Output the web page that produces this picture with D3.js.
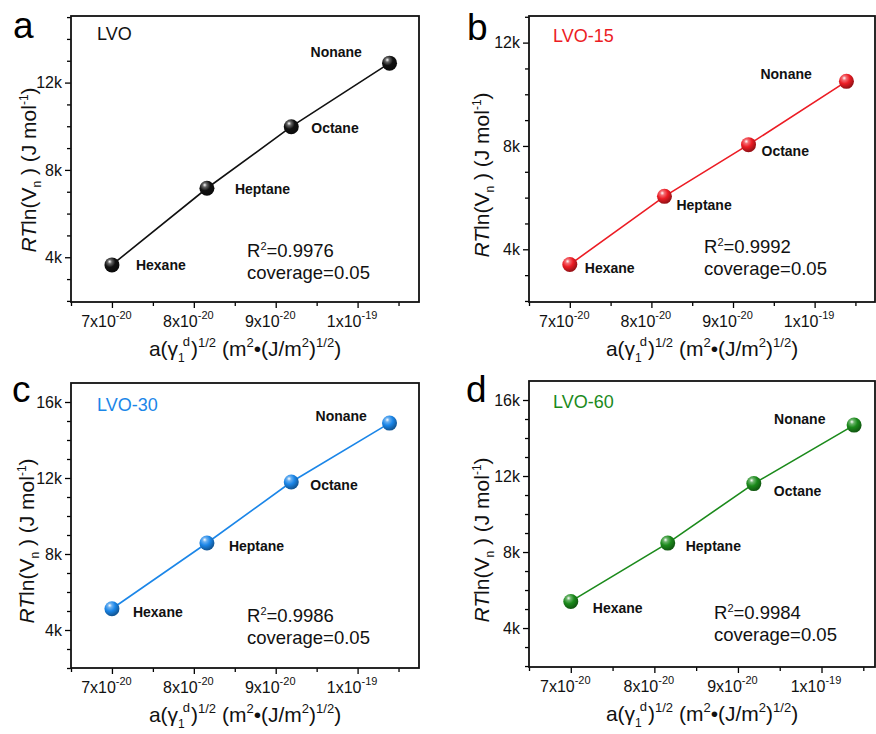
<!DOCTYPE html>
<html>
<head>
<meta charset="utf-8">
<script src="https://cdn.jsdelivr.net/npm/d3@7"></script>
<style>
  html, body { margin: 0; padding: 0; background: #fff; }
  svg { display: block; font-family: Arial, "Liberation Sans", Helvetica, sans-serif; }
</style>
</head>
<body>
<svg id="chart" width="876" height="734"></svg>
<script>
// ---------------- data ----------------
const compounds = ["Hexane", "Heptane", "Octane", "Nonane"];
const xValues = [7.0e-20, 8.16e-20, 9.19e-20, 10.39e-20];
const lvo   = [3650, 7160, 9980, 12890];
const lvo15 = [3410, 6050, 8050, 10500];
const lvo30 = [5120, 8580, 11790, 14890];
const lvo60 = [5400, 8470, 11600, 14680];
const sampleNames = ["LVO", "LVO-15", "LVO-30", "LVO-60"];
const panelLetters = ["a", "b", "c", "d"];
const r2Values = ["0.9976", "0.9992", "0.9986", "0.9984"];
const coverage = "0.05";
const xTickValues = [7e-20, 8e-20, 9e-20, 1e-19];
const xTickMantissa = ["7x10", "8x10", "9x10", "1x10"];
const xTickExponent = ["-20", "-20", "-20", "-19"];
const yTicksAB = [4000, 8000, 12000];
const yTicksCD = [4000, 8000, 12000, 16000];
const yTickLabel = v => (v / 1000) + "k";

// ---------------- layout / style ----------------
const colors = ["#111111", "#ec1c24", "#1b86e8", "#1b8a1b"];
const series = [lvo, lvo15, lvo30, lvo60];
const panels = [
  { left: 71,  right: 419, top: 16,  bottom: 302, xDomain: [6.5e-20, 10.75e-20], yDomain: [1950, 15050], yTicks: yTicksAB,
    letter: [13, 38], name: [97, 40], r2: [247, 257],
    offs: [[24, 5], [28, 6], [20, 6], [-79, -6]], yTitle: [36, 170] },
  { left: 529, right: 875, top: 16,  bottom: 302, xDomain: [6.5e-20, 10.74e-20], yDomain: [1960, 13030], yTicks: yTicksAB,
    letter: [467, 40], name: [553, 42], r2: [704, 253],
    offs: [[15, 8], [12, 14], [13, 11], [-86, -2]], yTitle: [489, 175] },
  { left: 71,  right: 419, top: 383, bottom: 668, xDomain: [6.5e-20, 10.75e-20], yDomain: [2000, 17000], yTicks: yTicksCD,
    letter: [12, 402], name: [97, 411], r2: [247, 622],
    offs: [[21, 8], [22, 8], [19, 8], [-74, -2]], yTitle: [34, 541] },
  { left: 529, right: 875, top: 381, bottom: 667, xDomain: [6.5e-20, 10.64e-20], yDomain: [1950, 17000], yTicks: yTicksCD,
    letter: [466, 402], name: [553, 408], r2: [714, 619],
    offs: [[22, 12], [18, 8], [20, 12], [-80, -1]], yTitle: [489, 540] }
];

const svg = d3.select("#chart");
svg.append("rect").attr("width", 876).attr("height", 734).attr("fill", "#fff");
const defs = svg.append("defs");

colors.forEach((c, i) => {
  const grad = defs.append("radialGradient")
    .attr("id", "ball" + i).attr("cx", "38%").attr("cy", "32%").attr("r", "65%")
    .attr("fx", "35%").attr("fy", "28%");
  grad.append("stop").attr("offset", "0%").attr("stop-color", "#ffffff");
  grad.append("stop").attr("offset", "22%").attr("stop-color", d3.interpolateRgb(c, "#ffffff")(0.35));
  grad.append("stop").attr("offset", "55%").attr("stop-color", c);
  grad.append("stop").attr("offset", "100%").attr("stop-color", d3.interpolateRgb(c, "#000000")(0.35));
});

panels.forEach((p, i) => {
  const g = svg.append("g");
  const x = d3.scaleLinear().domain(p.xDomain).range([p.left, p.right]);
  const y = d3.scaleLinear().domain(p.yDomain).range([p.bottom, p.top]);

  // minor ticks
  const xMinor = [6.5e-20, 7.5e-20, 8.5e-20, 9.5e-20, 10.5e-20];
  g.append("g").attr("transform", `translate(0,${p.bottom})`)
    .call(d3.axisBottom(x).tickValues(xMinor).tickSize(4).tickFormat(""))
    .call(s => s.select(".domain").remove())
    .selectAll("line").attr("stroke", "#000").attr("stroke-width", 1.3);
  const yMinor = d3.range(Math.ceil(p.yDomain[0] / 1000) * 1000, p.yDomain[1], 1000).filter(v => v % 4000 !== 0);
  g.append("g").attr("transform", `translate(${p.left},0)`)
    .call(d3.axisLeft(y).tickValues(yMinor).tickSize(4).tickFormat(""))
    .call(s => s.select(".domain").remove())
    .selectAll("line").attr("stroke", "#000").attr("stroke-width", 1.3);

  // major x axis
  const xa = g.append("g").attr("transform", `translate(0,${p.bottom})`)
    .call(d3.axisBottom(x).tickValues(xTickValues).tickSize(6).tickPadding(0).tickFormat(""));
  xa.select(".domain").remove();
  xa.selectAll("line").attr("stroke", "#000").attr("stroke-width", 1.3);
  xa.selectAll(".tick").each(function(d, k) {
    const t = d3.select(this).append("text")
      .attr("y", 25).attr("x", -6).attr("fill", "#111").attr("font-size", 16)
      .attr("text-anchor", "middle");
    t.append("tspan").text(xTickMantissa[k]);
    t.append("tspan").attr("dy", -8).attr("font-size", 11).text(xTickExponent[k]);
  });

  // major y axis
  const ya = g.append("g").attr("transform", `translate(${p.left},0)`)
    .call(d3.axisLeft(y).tickValues(p.yTicks).tickSize(6).tickPadding(3).tickFormat(yTickLabel));
  ya.select(".domain").remove();
  ya.selectAll("line").attr("stroke", "#000").attr("stroke-width", 1.3);
  ya.selectAll("text").attr("font-size", 16).attr("fill", "#111").attr("font-family", "Arial, 'Liberation Sans', sans-serif");

  // frame
  g.append("rect").attr("x", p.left).attr("y", p.top)
    .attr("width", p.right - p.left).attr("height", p.bottom - p.top)
    .attr("fill", "none").attr("stroke", "#111").attr("stroke-width", 1.8);

  // line
  const pts = xValues.map((xv, k) => [xv, series[i][k]]);
  g.append("path").datum(pts)
    .attr("d", d3.line().x(d => x(d[0])).y(d => y(d[1])))
    .attr("fill", "none").attr("stroke", colors[i]).attr("stroke-width", 1.6);

  // markers
  g.selectAll("circle.pt").data(pts).join("circle")
    .attr("cx", d => x(d[0])).attr("cy", d => y(d[1])).attr("r", 7.5)
    .attr("fill", `url(#ball${i})`);

  // compound labels
  g.selectAll("text.cmp").data(pts).join("text")
    .attr("x", (d, k) => x(d[0]) + p.offs[k][0])
    .attr("y", (d, k) => y(d[1]) + p.offs[k][1])
    .attr("font-size", 14).attr("font-weight", "bold").attr("fill", "#111")
    .text((d, k) => compounds[k]);

  // sample name
  g.append("text").attr("x", p.name[0]).attr("y", p.name[1])
    .attr("font-size", 18).attr("fill", colors[i] === "#111111" ? "#111" : colors[i])
    .text(sampleNames[i]);

  // panel letter
  g.append("text").attr("x", p.letter[0]).attr("y", p.letter[1])
    .attr("font-size", 37).attr("fill", "#000").text(panelLetters[i]);

  // R2 & coverage
  const r = g.append("text").attr("x", p.r2[0]).attr("y", p.r2[1]).attr("font-size", 18.5).attr("fill", "#111");
  r.append("tspan").text("R");
  r.append("tspan").attr("dy", -7).attr("font-size", 11).text("2");
  r.append("tspan").attr("dy", 7).text("=" + r2Values[i]);
  g.append("text").attr("x", p.r2[0]).attr("y", p.r2[1] + 22).attr("font-size", 18.5).attr("fill", "#111")
    .text("coverage=" + coverage);

  // y title
  const yt = g.append("text")
    .attr("transform", `translate(${p.yTitle[0]},${p.yTitle[1]}) rotate(-90)`)
    .attr("text-anchor", "middle").attr("font-size", 21).attr("fill", "#111");
  yt.append("tspan").attr("font-style", "italic").text("RT");
  yt.append("tspan").text("ln(V");
  yt.append("tspan").attr("dy", 5).attr("font-size", 12).text("n");
  yt.append("tspan").attr("dy", -5).text(" ) (J mol");
  yt.append("tspan").attr("dy", -8).attr("font-size", 12).text("-1");
  yt.append("tspan").attr("dy", 8).text(")");

  // x title
  const cx = (p.left + p.right) / 2;
  const xt = g.append("text").attr("x", cx).attr("y", p.bottom + 54)
    .attr("text-anchor", "middle").attr("font-size", 21).attr("fill", "#111");
  xt.append("tspan").text("a(γ");
  xt.append("tspan").attr("dy", 6).attr("font-size", 12).text("1");
  xt.append("tspan").attr("dy", -16).attr("dx", -2).attr("font-size", 13).text("d");
  xt.append("tspan").attr("dy", 10).attr("dx", 1).text(")");
  xt.append("tspan").attr("dy", -9).attr("font-size", 13).text("1/2");
  xt.append("tspan").attr("dy", 9).text(" (m");
  xt.append("tspan").attr("dy", -9).attr("font-size", 13).text("2");
  xt.append("tspan").attr("dy", 9).text("•(J/m");
  xt.append("tspan").attr("dy", -9).attr("font-size", 13).text("2");
  xt.append("tspan").attr("dy", 9).text(")");
  xt.append("tspan").attr("dy", -9).attr("font-size", 13).text("1/2");
  xt.append("tspan").attr("dy", 9).text(")");
});
</script>
</body>
</html>
